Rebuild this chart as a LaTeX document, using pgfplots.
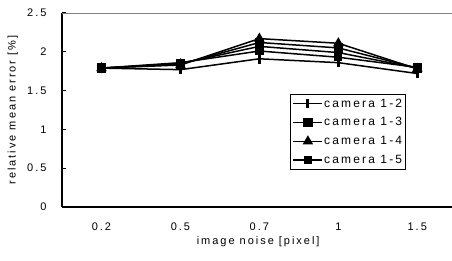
\documentclass[border=0pt]{standalone}
\usepackage{pgfplots}
\pgfplotsset{compat=1.18}
\usepackage{fontspec}
\setmainfont{Liberation Sans}[LetterSpace=18]
\begin{document}
\begin{tikzpicture}[font=\fontsize{11}{13}\selectfont]
\begin{axis}[
  at={(0pt,0pt)}, anchor=south west,
  scale only axis, width=390pt, height=194pt,
  xmin=-0.5, xmax=4.44, ymin=0, ymax=2.5,
  axis x line=bottom, axis y line=left,
  axis line style={line width=1.4pt, -},
  xtick={0,1,2,3,4},
  xticklabels={0.2,0.5,0.7,1,1.5},
  x tick style={draw=none},
  extra x ticks={0.5,1.5,2.5,3.5},
  extra x tick labels={},
  extra x tick style={major tick length=5pt, tick style={draw=black, line width=1.1pt}},
  ytick={0,0.5,1,1.5,2,2.5},
  yticklabels={0,0.5,1,1.5,2,2.5},
  y tick style={draw=black, line width=1.1pt},
  major tick length=4pt,
  tick align=inside,
  /pgf/number format/assume math mode=true,
  x tick label style={anchor=center, yshift=-20pt},
  y tick label style={anchor=east, xshift=-12pt},
  xlabel={image noise [pixel]},
  ylabel={relative mean error [\%]},
  every axis x label/.style={at={(axis description cs:0.503,0)}, anchor=center, yshift=-35pt},
  every axis y label/.style={at={(axis description cs:-0.126,0.5)}, rotate=90, anchor=center},
  clip=false,
  legend style={at={(0.585,0.584)}, anchor=north west, draw=black, line width=1pt,
    font=\fontsize{12}{14}\selectfont, row sep=8pt, inner xsep=2pt, inner ysep=4pt,
    nodes={inner xsep=1pt, inner ysep=0.5pt}},
  legend cell align=left,
  legend image code/.code={\draw[#1, line width=1.5pt, mark=none] (0pt,0pt) -- (29pt,0pt); \draw[#1, only marks] plot coordinates {(14.5pt,0pt)};},
]
\draw[gray, line width=1pt] (rel axis cs:0,1) -- (rel axis cs:1,1);
% camera 1-2
\addplot[black, line width=1.5pt, mark=|, mark size=4.8pt, mark options={line width=3pt}]
  coordinates {(0,1.79) (1,1.77) (2,1.91) (3,1.86) (4,1.72)};
\addlegendentry{camera 1-2}
% camera 1-3
\addplot[black, line width=1.5pt, mark=square*, mark size=4pt]
  coordinates {(0,1.79) (1,1.84) (2,2.12) (3,2.05) (4,1.79)};
\addlegendentry{camera 1-3}
% camera 1-4
\addplot[black, line width=1.5pt, mark=triangle*, mark size=4.6pt]
  coordinates {(0,1.79) (1,1.83) (2,2.17) (3,2.11) (4,1.78)};
\addlegendentry{camera 1-4}
% camera 1-5
\addplot[black, line width=1.5pt, mark=square*, mark size=3.4pt]
  coordinates {(0,1.79) (1,1.86) (2,2.01) (3,1.93) (4,1.80)};
\addlegendentry{camera 1-5}
% unlabelled fifth series
\addplot[black, line width=1.5pt, mark=diamond*, mark size=4pt, forget plot]
  coordinates {(0,1.79) (1,1.85) (2,2.07) (3,1.99) (4,1.79)};
\end{axis}
\pgfresetboundingbox
\path[use as bounding box] (-62pt,-53pt) rectangle (390pt,207pt);
\end{tikzpicture}
\end{document}
